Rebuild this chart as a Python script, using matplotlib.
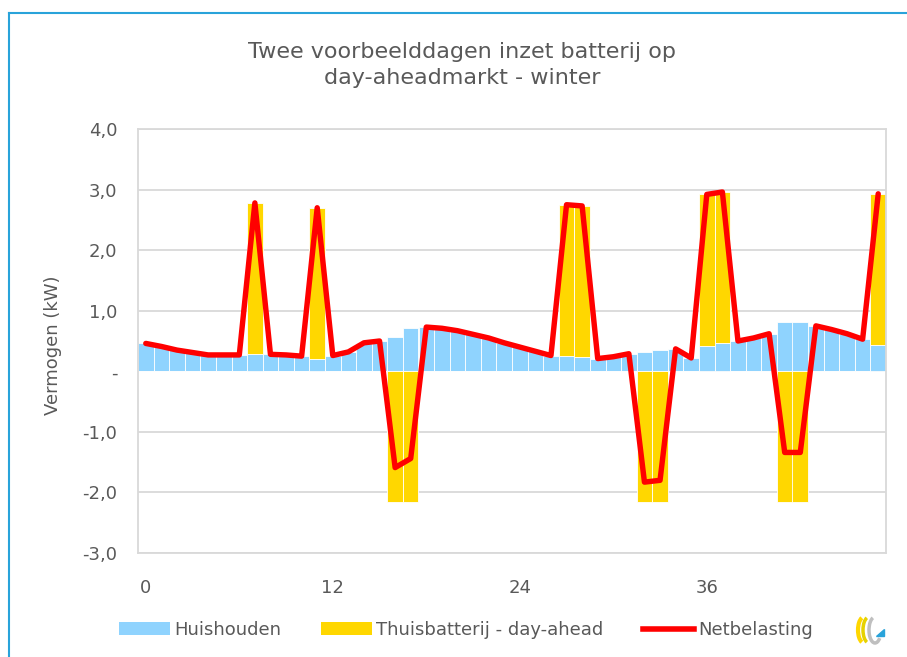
import numpy as np
import matplotlib
matplotlib.use('Agg')
import matplotlib.pyplot as plt
from matplotlib.patches import Patch, Arc, Polygon
from matplotlib.lines import Line2D
from matplotlib.ticker import FuncFormatter

# uren van twee dagen
hours = np.arange(48)

# huishoudelijk verbruik (kW)
huishouden = [0.46, 0.41, 0.35, 0.31, 0.27, 0.27, 0.27, 0.28, 0.28, 0.27, 0.25, 0.20,
              0.26, 0.32, 0.47, 0.50, 0.56, 0.71, 0.73, 0.71, 0.67, 0.61, 0.55, 0.47,
              0.40, 0.33, 0.26, 0.25, 0.23, 0.21, 0.24, 0.29, 0.32, 0.35, 0.37, 0.22,
              0.42, 0.46, 0.50, 0.55, 0.62, 0.81, 0.81, 0.75, 0.69, 0.62, 0.53, 0.43]

# thuisbatterij op day-ahead markt (kW), + laden / - ontladen
batterij = [0, 0, 0, 0, 0, 0, 0, 2.5, 0, 0, 0, 2.5,
            0, 0, 0, 0, -2.15, -2.15, 0, 0, 0, 0, 0, 0,
            0, 0, 0, 2.5, 2.5, 0, 0, 0, -2.15, -2.15, 0, 0,
            2.5, 2.5, 0, 0, 0, -2.15, -2.15, 0, 0, 0, 0, 2.5]

xtick_pos = [0, 12, 24, 36]

huis = np.array(huishouden)
bat = np.array(batterij)
netbelasting = huis + bat

blue = '#8FD3FE'
yellow = '#FFD700'
red = '#FF0000'
grey_txt = '#595959'
grid_col = '#D9D9D9'

fig = plt.figure(figsize=(9.07, 6.57), dpi=100)
ax = fig.add_axes([138 / 907, 1 - 553 / 657, 748 / 907, 424 / 657])

# positieve batterij boven op huishouden, negatieve vanaf 0 naar beneden
bat_bottom = np.where(bat > 0, huis, 0)
ax.bar(hours, huis, width=1.0, color=blue, edgecolor='white', linewidth=0.6, zorder=2)
ax.bar(hours, bat, width=1.0, bottom=bat_bottom, color=yellow, edgecolor='white',
       linewidth=0.6, zorder=2)
ax.plot(hours, netbelasting, color=red, linewidth=3.9, solid_joinstyle='round',
        solid_capstyle='round', zorder=3)

ax.set_xlim(-0.5, 47.5)
ax.set_ylim(-3, 4)
ax.set_yticks(np.arange(-3, 5, 1))
ax.set_xticks(xtick_pos)
ax.set_xticklabels([str(t) for t in xtick_pos])


def fmt(v, pos):
    if abs(v) < 1e-9:
        return '-'
    return ('%.1f' % v).replace('.', ',')


ax.yaxis.set_major_formatter(FuncFormatter(fmt))
ax.tick_params(axis='both', length=0, labelsize=13, colors=grey_txt)
ax.tick_params(axis='y', pad=15)
ax.tick_params(axis='x', pad=19)
ax.grid(axis='y', color=grid_col, linewidth=1.3, zorder=0)
ax.set_axisbelow(True)
for s in ax.spines.values():
    s.set_color(grid_col)
    s.set_linewidth(1.3)

ax.set_ylabel('Vermogen (kW)', fontsize=13, color=grey_txt)
ax.yaxis.set_label_coords(-0.102, 0.49)

fig.text(462 / 907, 1 - 65 / 657, 'Twee voorbeelddagen inzet batterij op\nday-aheadmarkt - winter',
         ha='center', va='center', fontsize=16, color=grey_txt, linespacing=1.4)

handles = [Patch(facecolor=blue, edgecolor='none'),
           Patch(facecolor=yellow, edgecolor='none'),
           Line2D([0], [0], color=red, linewidth=4)]
labels = ['Huishouden', 'Thuisbatterij - day-ahead', 'Netbelasting']
leg = fig.legend(handles, labels, loc='center', bbox_to_anchor=(466 / 907, 1 - 630 / 657),
                 ncol=3, frameon=False, fontsize=13, handlelength=2.8, handleheight=0.7,
                 handletextpad=0.25, columnspacing=2.2)
for t in leg.get_texts():
    t.set_color(grey_txt)

# klein logo rechtsonder
lax = fig.add_axes([852 / 907, 1 - 645 / 657, 36 / 907, 30 / 657])
lax.set_xlim(0, 36)
lax.set_ylim(0, 30)
lax.axis('off')
lax.add_patch(Arc((12, 15), 12, 26, theta1=100, theta2=260, color=yellow, linewidth=3))
lax.add_patch(Arc((17, 15), 12, 26, theta1=100, theta2=260, color='#E6D200', linewidth=2.5))
lax.add_patch(Arc((23, 15), 12, 26, theta1=100, theta2=300, color='#BFBFBF', linewidth=2.5))
lax.add_patch(Polygon([[24, 9], [32, 9], [32, 16]], closed=True, color='#29A3DA'))

# rand van de grafiek
fig.add_artist(Line2D([9 / 907, 1], [1 - 13 / 657, 1 - 13 / 657], color='#29A3DA',
                      linewidth=1.5, transform=fig.transFigure))
fig.add_artist(Line2D([9 / 907, 9 / 907], [0, 1 - 13 / 657], color='#29A3DA',
                      linewidth=1.5, transform=fig.transFigure))

fig.savefig('out.png', dpi=100)
